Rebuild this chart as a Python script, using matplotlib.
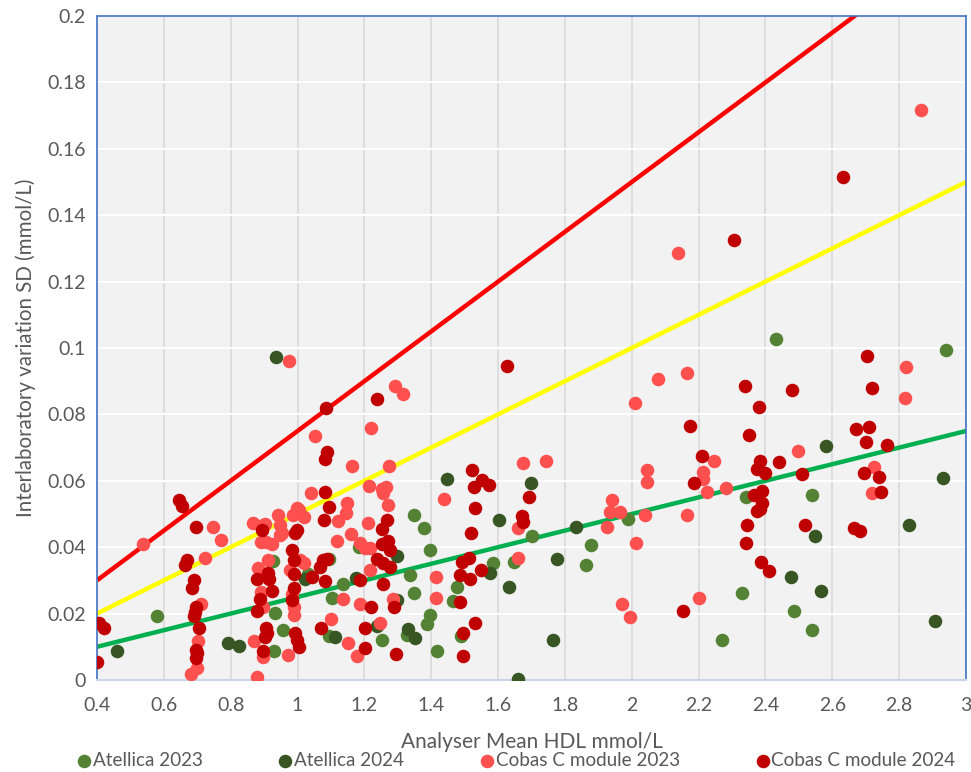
import matplotlib.pyplot as plt
from matplotlib.ticker import FuncFormatter

# Atellica 2023
atellica23_x = [0.579, 0.926, 0.933, 0.956, 0.93, 1.03, 1.095, 1.102, 1.095, 1.136, 1.184,
                1.254, 1.337, 1.347, 1.327, 1.349, 1.377, 1.397, 1.397, 1.387, 1.417, 1.477,
                1.465, 1.489, 1.585, 1.647, 1.70, 1.864, 1.877, 1.988, 2.27, 2.33, 2.343,
                2.43, 2.484, 2.54, 2.54, 2.94]
atellica23_y = [0.0193, 0.0359, 0.0203, 0.0151, 0.0088, 0.032, 0.0364, 0.0247, 0.0133, 0.0288, 0.0402,
                0.012, 0.0316, 0.0261, 0.0136, 0.0497, 0.0459, 0.039, 0.0196, 0.017, 0.0087, 0.0281,
                0.0239, 0.0133, 0.0353, 0.0356, 0.0434, 0.0345, 0.0406, 0.0486, 0.0121, 0.0261, 0.0552,
                0.1028, 0.0208, 0.015, 0.0556, 0.0994]

# Atellica 2024
atellica24_x = [0.459, 0.793, 0.826, 0.935, 1.023, 1.113, 1.176, 1.239, 1.297, 1.297, 1.33,
                1.352, 1.447, 1.575, 1.604, 1.632, 1.66, 1.698, 1.764, 1.775, 1.833, 2.475,
                2.547, 2.567, 2.58, 2.83, 2.908, 2.93]
atellica24_y = [0.0088, 0.011, 0.0102, 0.0974, 0.0303, 0.013, 0.0308, 0.0163, 0.0374, 0.0241, 0.0153,
                0.0126, 0.0604, 0.0323, 0.0482, 0.0281, 0.0002, 0.0594, 0.012, 0.0364, 0.0461, 0.0311,
                0.0435, 0.0268, 0.0704, 0.0466, 0.0178, 0.0607]

# Cobas C module 2023
cobas23_x = [0.537, 0.68, 0.698, 0.701, 0.71, 0.723, 0.746, 0.771, 0.868, 0.878, 0.87, 0.883,
             0.89, 0.89, 0.898, 0.898, 0.898, 0.903, 0.906, 0.913, 0.923, 0.943, 0.948, 0.948,
             0.953, 0.971, 0.975, 0.978, 0.983, 0.986, 0.988, 0.988, 0.998, 1.003, 1.008, 1.018,
             1.018, 1.04, 1.053, 1.10, 1.118, 1.122, 1.137, 1.146, 1.149, 1.152, 1.16, 1.163,
             1.179, 1.187, 1.187, 1.202, 1.21, 1.213, 1.217, 1.217, 1.219, 1.247, 1.252, 1.257,
             1.265, 1.27, 1.275, 1.287, 1.292, 1.315, 1.414, 1.414, 1.437, 1.66, 1.661, 1.674,
             1.744, 1.925, 1.936, 1.94, 1.966, 1.97, 1.995, 2.009, 2.014, 2.038, 2.045, 2.045,
             2.079, 2.137, 2.164, 2.164, 2.2, 2.213, 2.213, 2.226, 2.246, 2.283, 2.497, 2.72,
             2.725, 2.816, 2.82, 2.864]
cobas23_y = [0.0409, 0.0017, 0.0035, 0.0116, 0.0228, 0.0367, 0.046, 0.0422, 0.0474, 0.001, 0.0116, 0.0336,
             0.0417, 0.0266, 0.0467, 0.0221, 0.007, 0.047, 0.0417, 0.0361, 0.0411, 0.0497, 0.0467, 0.0437,
             0.0442, 0.0075, 0.0961, 0.0331, 0.0258, 0.0498, 0.0221, 0.0196, 0.0519, 0.0512, 0.0361, 0.0492,
             0.0353, 0.0564, 0.0735, 0.0183, 0.042, 0.048, 0.0245, 0.0502, 0.0533, 0.011, 0.0439, 0.0645,
             0.0073, 0.0412, 0.023, 0.0397, 0.0474, 0.0583, 0.0397, 0.0331, 0.076, 0.0171, 0.0574, 0.0562,
             0.058, 0.0526, 0.0645, 0.0245, 0.0886, 0.086, 0.0311, 0.0248, 0.0544, 0.0368, 0.0457, 0.0655,
             0.066, 0.0461, 0.0506, 0.0542, 0.0506, 0.023, 0.019, 0.0833, 0.0412, 0.0498, 0.0633, 0.0596,
             0.0907, 0.1287, 0.0924, 0.0496, 0.0248, 0.0627, 0.0604, 0.0567, 0.066, 0.0579, 0.0689, 0.0562,
             0.064, 0.0848, 0.0942, 0.1716]

# Cobas C module 2024
cobas24_x = [0.401, 0.407, 0.421, 0.646, 0.654, 0.663, 0.668, 0.683, 0.69, 0.691, 0.693, 0.696,
             0.695, 0.705, 0.696, 0.698, 0.696, 0.88, 0.88, 0.888, 0.895, 0.898, 0.903, 0.905,
             0.908, 0.913, 0.915, 0.923, 0.983, 0.983, 0.988, 0.99, 0.99, 0.993, 0.993, 0.998,
             0.998, 1.003, 1.043, 1.068, 1.07, 1.076, 1.08, 1.081, 1.081, 1.081, 1.085, 1.088,
             1.088, 1.095, 1.187, 1.202, 1.202, 1.219, 1.237, 1.238, 1.252, 1.252, 1.257, 1.257,
             1.269, 1.27, 1.277, 1.277, 1.29, 1.295, 1.487, 1.487, 1.492, 1.494, 1.494, 1.512,
             1.517, 1.519, 1.522, 1.527, 1.532, 1.532, 1.549, 1.552, 1.572, 1.628, 1.671, 1.674,
             1.692, 2.153, 2.175, 2.185, 2.21, 2.305, 2.34, 2.341, 2.344, 2.35, 2.365, 2.375,
             2.375, 2.38, 2.385, 2.385, 2.387, 2.39, 2.39, 2.40, 2.41, 2.44, 2.48, 2.51,
             2.518, 2.631, 2.666, 2.67, 2.682, 2.695, 2.70, 2.705, 2.71, 2.72, 2.74, 2.747, 2.765]
cobas24_y = [0.0055, 0.0173, 0.0158, 0.0542, 0.0524, 0.0346, 0.0361, 0.0276, 0.0301, 0.0193, 0.0206, 0.0221,
             0.0462, 0.0156, 0.009, 0.008, 0.0065, 0.0304, 0.0209, 0.0243, 0.0452, 0.0088, 0.013, 0.0156,
             0.014, 0.0321, 0.0303, 0.0268, 0.0392, 0.0241, 0.0361, 0.0319, 0.0276, 0.0442, 0.014, 0.012,
             0.0452, 0.01, 0.0311, 0.0341, 0.0158, 0.0361, 0.0482, 0.0298, 0.0567, 0.0666, 0.0818, 0.0363,
             0.0688, 0.052, 0.0301, 0.0158, 0.0095, 0.0219, 0.0364, 0.0847, 0.0455, 0.041, 0.0351, 0.0289,
             0.0482, 0.042, 0.0392, 0.0341, 0.0219, 0.0078, 0.0316, 0.0236, 0.0355, 0.014, 0.0072, 0.0368,
             0.0303, 0.0442, 0.0633, 0.0582, 0.0517, 0.0171, 0.0331, 0.0602, 0.0587, 0.0947, 0.0494, 0.0477,
             0.055, 0.0209, 0.0766, 0.0594, 0.0676, 0.1324, 0.0886, 0.0414, 0.0467, 0.0737, 0.0557, 0.051,
             0.0635, 0.0821, 0.0516, 0.0661, 0.0354, 0.0569, 0.0534, 0.0623, 0.0329, 0.0657, 0.0873, 0.0621,
             0.0467, 0.1516, 0.0459, 0.0755, 0.045, 0.0623, 0.0717, 0.0977, 0.0762, 0.0879, 0.0612, 0.0566, 0.0708]

# limit lines: SD = slope * mean
line_x = [0.4, 3.0]
line_slopes = [0.075, 0.05, 0.025]
line_colors = ['#ff0000', '#ffff00', '#00b050']

plt.rcParams['font.family'] = ['Lato', 'DejaVu Sans']
text_color = '#595959'

fig = plt.figure(figsize=(9.71, 7.72), dpi=100)
ax = fig.add_axes([0.0999, 0.1192, 0.8950, 0.8601])
ax.set_facecolor('#f2f2f2')

for slope, col in zip(line_slopes, line_colors):
    ax.plot(line_x, [slope * v for v in line_x], color=col, linewidth=3.2, zorder=2,
            solid_capstyle='butt')

ms = 95
ax.scatter(atellica23_x, atellica23_y, s=ms, color='#548235', label='Atellica 2023', zorder=3, linewidths=0)
ax.scatter(atellica24_x, atellica24_y, s=ms, color='#375623', label='Atellica 2024', zorder=3, linewidths=0)
ax.scatter(cobas23_x, cobas23_y, s=ms, color='#ff5050', label='Cobas C module 2023', zorder=3, linewidths=0)
ax.scatter(cobas24_x, cobas24_y, s=ms, color='#c00000', label='Cobas C module 2024', zorder=3, linewidths=0)

ax.set_xlim(0.4, 3.0)
ax.set_ylim(0, 0.2)
ax.set_xticks([0.4 + 0.2 * i for i in range(14)])
ax.set_yticks([0.02 * i for i in range(11)])
ax.xaxis.set_major_formatter(FuncFormatter(lambda v, p: '%g' % round(v, 2)))
ax.yaxis.set_major_formatter(FuncFormatter(lambda v, p: '%g' % round(v, 2)))
ax.tick_params(length=0, labelsize=14, labelcolor=text_color, pad=8)
ax.tick_params(axis='x', pad=12)

ax.grid(axis='x', color='#d9d9d9', linewidth=1.2, zorder=0)
ax.grid(axis='y', color='white', linewidth=1.5, zorder=0)
ax.set_axisbelow(True)

for side in ['left', 'top', 'right']:
    ax.spines[side].set_color('#4472c4')
    ax.spines[side].set_linewidth(1.2)
ax.spines['bottom'].set_color('#ccd5e6')
ax.spines['bottom'].set_linewidth(1.5)

ax.set_ylabel('Interlaboratory variation SD (mmol/L)', fontsize=14.8, color=text_color, labelpad=8)
ax.set_xlabel('Analyser Mean HDL mmol/L', fontsize=15, color=text_color, labelpad=13)

fig.legend(loc='lower left', bbox_to_anchor=(0.079, 0.004), ncol=4, frameon=False,
           fontsize=13.6, labelcolor=text_color, handlelength=0.75, handletextpad=0.1,
           columnspacing=4.0, borderaxespad=0, borderpad=0)

fig.savefig('out.png', dpi=100)
